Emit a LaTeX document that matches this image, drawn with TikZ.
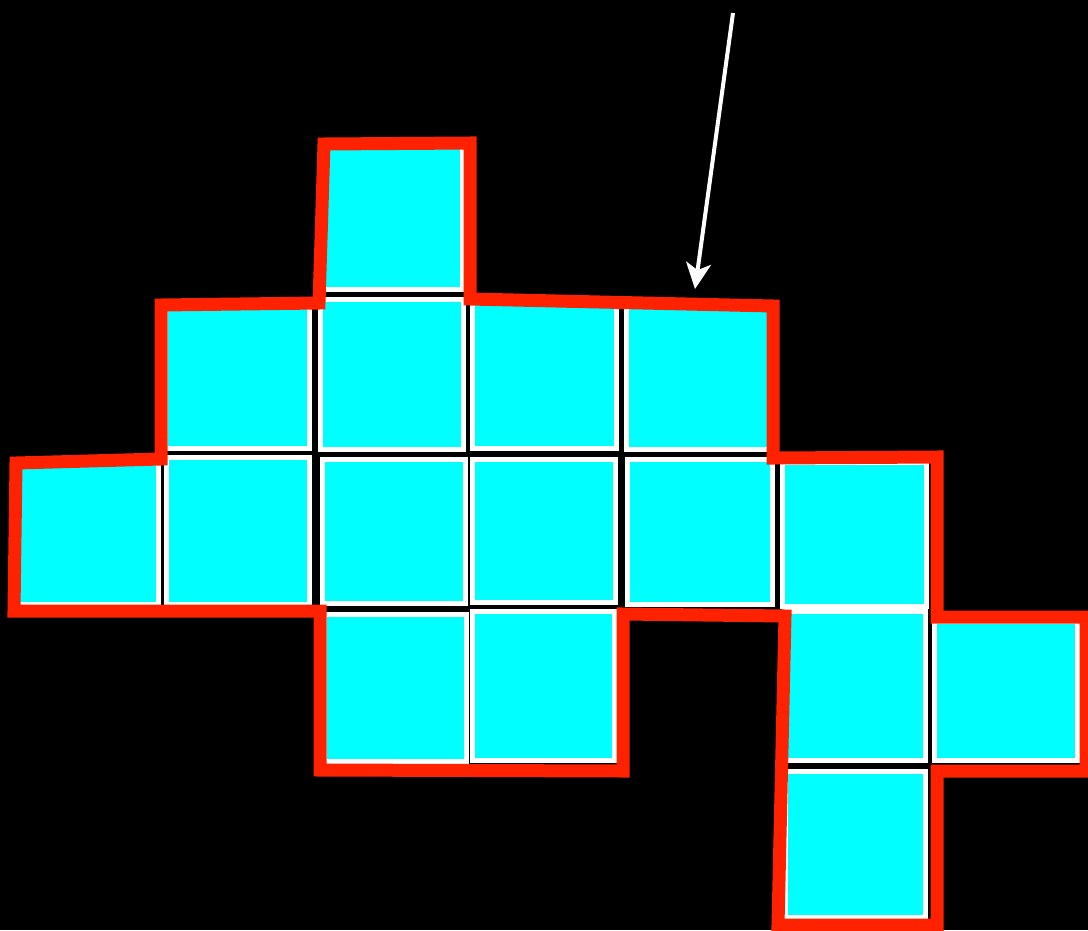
\documentclass[tikz,border=0pt]{standalone}
\usetikzlibrary{arrows.meta}
\definecolor{tile}{RGB}{0,255,255}
\definecolor{outl}{RGB}{255,34,0}
\tikzset{
  tilebox/.style={fill=tile, draw=white, line width=5pt},
  outline/.style={draw=outl, line width=13pt, line join=miter},
  pointer/.style={draw=white, line width=4pt, -{Stealth[length=26pt,width=25pt,inset=7pt]}}
}
\newcommand{\tileat}[4]{\path[tilebox] (#1+2.5,#2+2.5) rectangle (#3-2.5,#4-2.5);}
\begin{document}
\begin{tikzpicture}[x=1pt,y=-1pt]
\fill[black] (0,0) rectangle (1088,930);
\useasboundingbox (0,0) rectangle (1088,930);
% tiles
\tileat{320}{140}{465}{292}
\tileat{163}{300}{312}{451}
\tileat{318}{297}{466}{452}
\tileat{470}{300}{619}{451}
\tileat{624}{300}{775}{452}
\tileat{14}{460}{161}{607}
\tileat{164}{455}{312}{607}
\tileat{320}{457}{468}{606}
\tileat{470}{457}{618}{605}
\tileat{625}{457}{775}{607}
\tileat{780}{460}{929}{609}
\tileat{322}{612}{469}{764}
\tileat{470}{609}{617}{763}
\tileat{782}{609}{928}{763}
\tileat{932}{619}{1080}{763}
\tileat{783}{769}{928}{920}
% outline
\draw[outline] (324,144) -- (470,143) -- (470,299) -- (773,306) -- (773,458)
  -- (937,457) -- (937,617) -- (1086,617) -- (1086,771) -- (937,771)
  -- (937,925) -- (778,925) -- (785,616) -- (623,614) -- (623,771)
  -- (320,770) -- (320,611) -- (14,611) -- (16,463) -- (161,459)
  -- (161,305) -- (319,303) -- cycle;
% arrow
\coordinate (arrS) at (733,13);
\coordinate (arrE) at (695,289);
\draw[pointer] (arrS) -- (arrE);
\end{tikzpicture}
\end{document}
